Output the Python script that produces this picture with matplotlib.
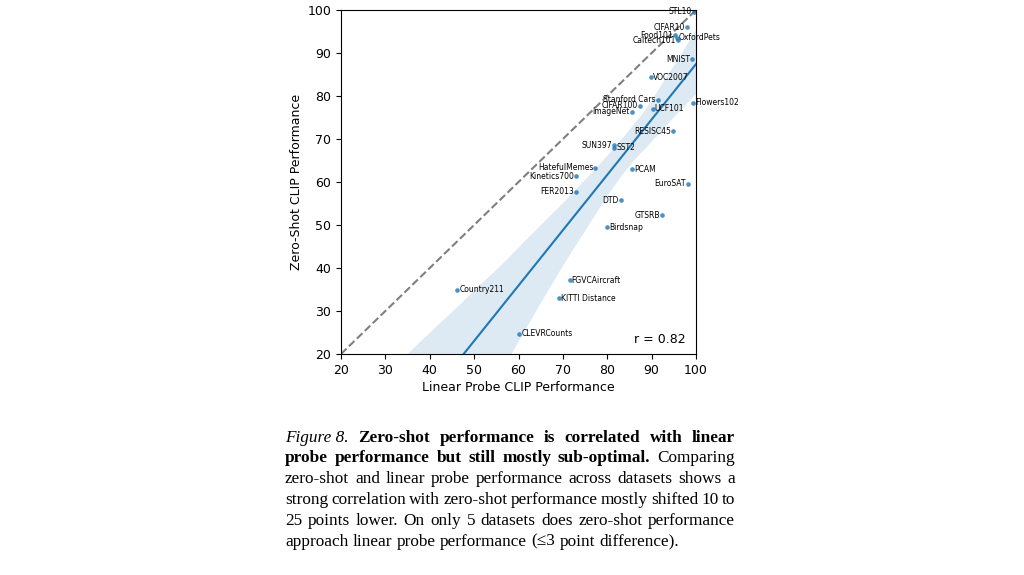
import numpy as np
import matplotlib
matplotlib.use('Agg')
import matplotlib.pyplot as plt
import seaborn as sns

# dataset name, linear probe score, zero-shot score, label side
names = ['STL10', 'CIFAR10', 'Food101', 'OxfordPets', 'Caltech101', 'MNIST',
         'VOC2007', 'Stanford Cars', 'CIFAR100', 'ImageNet', 'UCF101',
         'Flowers102', 'RESISC45', 'SUN397', 'SST2', 'HatefulMemes',
         'Kinetics700', 'PCAM', 'EuroSAT', 'FER2013', 'DTD', 'GTSRB',
         'Birdsnap', 'FGVCAircraft', 'Country211', 'KITTI Distance',
         'CLEVRCounts']
linear_probe = [99.6, 97.9, 95.3, 95.7, 95.9, 99.2, 89.8, 91.4, 87.4, 85.5,
                90.2, 99.3, 94.9, 81.5, 81.6, 77.3, 73.0, 85.6, 98.1, 73.0,
                83.0, 92.4, 79.9, 71.5, 46.2, 69.1, 60.2]
zero_shot = [99.6, 96.0, 94.1, 93.6, 93.0, 88.5, 84.4, 79.1, 77.7, 76.3,
             77.0, 78.4, 71.8, 68.6, 68.0, 63.3, 61.3, 63.0, 59.6, 57.7,
             55.7, 52.3, 49.5, 37.1, 34.9, 33.0, 24.7]
label_side = ['l', 'l', 'l', 'r', 'l', 'l', 'r', 'l', 'l', 'l', 'r', 'r', 'l',
              'l', 'r', 'l', 'l', 'r', 'l', 'l', 'l', 'l', 'r', 'r', 'r', 'r',
              'r']
r_text = 'r = 0.82'

caption = [
    [('Figure 8.', 'it'), ('Zero-shot', 'bf'), ('performance', 'bf'), ('is', 'bf'),
     ('correlated', 'bf'), ('with', 'bf'), ('linear', 'bf')],
    [('probe', 'bf'), ('performance', 'bf'), ('but', 'bf'), ('still', 'bf'),
     ('mostly', 'bf'), ('sub-optimal.', 'bf'), ('Comparing', 'rm')],
    [(w, 'rm') for w in 'zero-shot and linear probe performance across datasets shows a'.split()],
    [(w, 'rm') for w in 'strong correlation with zero-shot performance mostly shifted 10 to'.split()],
    [(w, 'rm') for w in '25 points lower. On only 5 datasets does zero-shot performance'.split()],
    [(w, 'rm') for w in 'approach linear probe performance (\u22643 point difference).'.split()],
]

fig = plt.figure(figsize=(10.24, 5.75), dpi=100)
ax = fig.add_axes([341 / 1024, 1 - 354 / 575, 355 / 1024, 344 / 575])
ax.set_xlim(20, 100)
ax.set_ylim(20, 100)

ax.plot([20, 100], [20, 100], '--', color='gray', lw=1.5, zorder=1)
sns.regplot(x=np.array(linear_probe), y=np.array(zero_shot), ax=ax,
            color='#1f77b4', truncate=False, seed=0,
            scatter_kws={'s': 11, 'linewidths': 0},
            line_kws={'lw': 1.5})
ax.set_xlim(20, 100)
ax.set_ylim(20, 100)

for n, x, y, side in zip(names, linear_probe, zero_shot, label_side):
    if side == 'l':
        ax.annotate(n, (x, y), xytext=(-1.5, 0), textcoords='offset points',
                    ha='right', va='center', fontsize=5.5)
    else:
        ax.annotate(n, (x, y), xytext=(1.5, 0), textcoords='offset points',
                    ha='left', va='center', fontsize=5.5)

ax.text(0.972, 0.043, r_text, transform=ax.transAxes, ha='right', va='center',
        fontsize=9)
ax.set_xticks(range(20, 101, 10))
ax.set_yticks(range(20, 101, 10))
ax.tick_params(labelsize=9)
ax.set_xlabel('Linear Probe CLIP Performance', fontsize=9, labelpad=3)
ax.set_ylabel('Zero-Shot CLIP Performance', fontsize=9, labelpad=3)

# caption, justified by hand
styles = {'rm': dict(style='normal', weight='normal'),
          'it': dict(style='italic', weight='normal'),
          'bf': dict(style='normal', weight='bold')}
serif = ['Liberation Serif', 'DejaVu Serif']
cap_size = 12.4
x_left, x_right = 285, 735
baselines = [441.5, 462.3, 483.1, 503.9, 524.7, 545.5]
renderer = fig.canvas.get_renderer()
W, H = 1024, 575

for i, (tokens, yb) in enumerate(zip(caption, baselines)):
    texts = []
    for word, st in tokens:
        t = fig.text(0, 1 - yb / H, word, family=serif, fontsize=cap_size,
                     va='baseline', ha='left', **styles[st])
        texts.append(t)
    widths = [t.get_window_extent(renderer).width for t in texts]
    if i < len(caption) - 1:
        gap = (x_right - x_left - sum(widths)) / (len(texts) - 1)
    else:
        gap = cap_size * 0.25 * 100 / 72
    x = x_left
    for t, w in zip(texts, widths):
        t.set_x(x / W)
        x += w + gap

fig.savefig('out.png', dpi=100)
